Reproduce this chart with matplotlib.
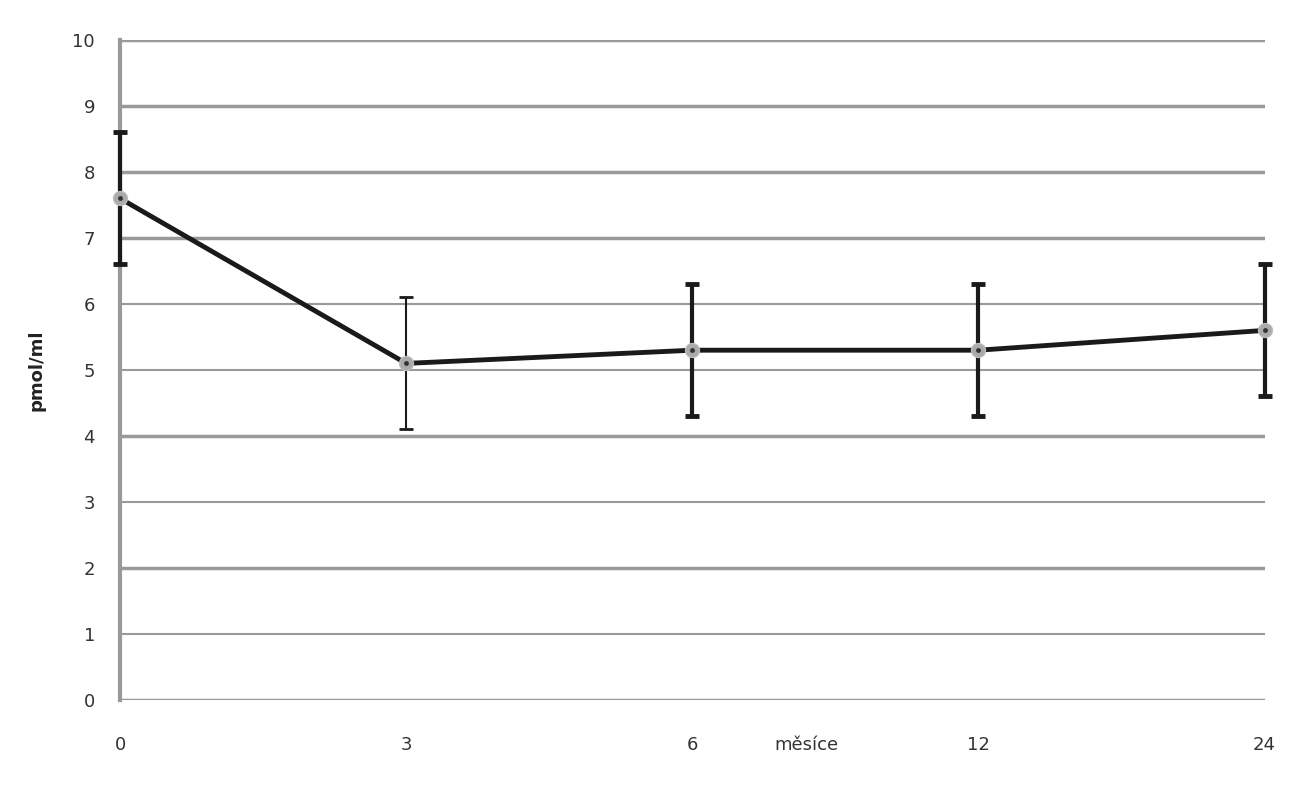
import matplotlib.pyplot as plt
import numpy as np

months = ['0', '3', '6', '12', '24']
mean = [7.6, 5.1, 5.3, 5.3, 5.6]
err_lo = [1.0, 1.0, 1.0, 1.0, 1.0]
err_hi = [1.0, 1.0, 1.0, 1.0, 1.0]
bar_width = [3.0, 1.5, 3.0, 3.0, 3.0]

# grid lines look thicker/thinner in the original scan
grid_levels = list(range(0, 11))
grid_width = [2.5, 1.5, 2.5, 1.5, 2.5, 1.5, 1.5, 2.5, 2.5, 2.5, 2.5]

fig = plt.figure(figsize=(13.05, 8), dpi=100)
ax = fig.add_axes([0.092, 0.125, 0.877, 0.825])

x = np.arange(len(months))

for lev, w in zip(grid_levels, grid_width):
    ax.axhline(lev, color='#999999', lw=w, zorder=1)

for i in range(len(x)):
    eb = ax.errorbar(x[i], mean[i], yerr=[[err_lo[i]], [err_hi[i]]], fmt='none',
                     ecolor='#1a1a1a', elinewidth=bar_width[i], capsize=5,
                     capthick=bar_width[i] + 0.5, zorder=3)
    for art in eb.lines[1] + eb.lines[2]:
        art.set_clip_on(False)

ax.plot(x, mean, color='#1a1a1a', lw=3.5, zorder=4, clip_on=False)
ax.plot(x, mean, 'o', ms=10, mfc='#aaaaaa', mec='#bbbbbb', zorder=5, clip_on=False)
ax.plot(x, mean, 'o', ms=3.5, mfc='#333333', mec='none', zorder=6, clip_on=False)

ax.set_xlim(0, len(x) - 1)
ax.set_ylim(0, 10)
ax.set_xticks(x)
ax.set_xticklabels(months)
ax.set_yticks(grid_levels)

for s in ['top', 'right', 'bottom']:
    ax.spines[s].set_visible(False)
ax.spines['left'].set_color('#999999')
ax.spines['left'].set_linewidth(3)
ax.spines['left'].set_zorder(2)

ax.tick_params(axis='both', length=0, labelsize=13, colors='#333333')
ax.tick_params(axis='y', pad=18)
ax.tick_params(axis='x', pad=26)

ax.set_xlabel('měsíce', fontsize=13, color='#333333')
ax.xaxis.set_label_coords(0.6, -0.055)
ax.set_ylabel('pmol/ml', fontsize=13, color='#222222', fontweight='bold')
ax.yaxis.set_label_coords(-0.065, 0.5)

fig.savefig('out.png', dpi=100)
